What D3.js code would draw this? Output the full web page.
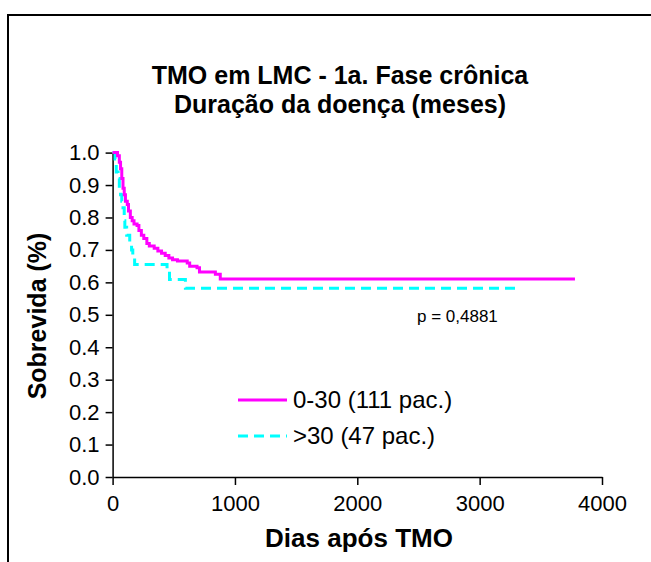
<!DOCTYPE html>
<html><head><meta charset="utf-8">
<script src="https://cdn.jsdelivr.net/npm/d3@7"></script>
<style>body{margin:0;background:#fff}svg{display:block}</style>
</head><body>
<svg id="c" width="651" height="562"></svg>
<script>
// ---- data ----
const titleLines = ["TMO em LMC - 1a. Fase crônica", "Duração da doença (meses)"];
const xLabel = "Dias após TMO";
const yLabel = "Sobrevida (%)";
const xTicks = [0, 1000, 2000, 3000, 4000];
const yTicks = [0, 0.1, 0.2, 0.3, 0.4, 0.5, 0.6, 0.7, 0.8, 0.9, 1.0];
const seriesNames = ["0-30 (111 pac.)", ">30 (47 pac.)"];
const seriesColors = ["#ff00ff", "#00ffff"];
const pValue = "p = 0,4881";
// Kaplan-Meier steps (days after TMO, survival)
const group1Days = [0, 40, 55, 65, 75, 85, 95, 105, 120, 130, 145, 160, 175, 200, 215, 235, 255, 280, 300, 340, 370, 400, 430, 460, 490, 530, 610, 630, 690, 710, 840, 880, 3779];
const group1Surv = [1.0, 0.99, 0.97, 0.95, 0.92, 0.89, 0.87, 0.85, 0.84, 0.82, 0.80, 0.79, 0.78, 0.775, 0.76, 0.745, 0.735, 0.72, 0.712, 0.705, 0.697, 0.69, 0.683, 0.675, 0.67, 0.666, 0.66, 0.65, 0.645, 0.632, 0.625, 0.61, 0.61];
const group2Days = [0, 20, 30, 45, 55, 65, 75, 85, 95, 100, 115, 140, 155, 165, 180, 445, 465, 595, 3313];
const group2Surv = [1.0, 0.98, 0.94, 0.92, 0.89, 0.87, 0.85, 0.83, 0.79, 0.77, 0.745, 0.72, 0.70, 0.68, 0.655, 0.634, 0.609, 0.582, 0.582];

// ---- chart ----
const FONT = "'Liberation Sans', Arial, sans-serif";
const svg = d3.select("#c").style("font-family", FONT);

svg.append("rect").attr("x", 8).attr("y", 15).attr("width", 700).attr("height", 600)
  .attr("fill", "#fff").attr("stroke", "#000").attr("stroke-width", 2);

const x = d3.scaleLinear().domain([0, 4000]).range([112.6, 602]);
const y = d3.scaleLinear().domain([0, 1]).range([477, 152.6]);

// title
svg.append("g").selectAll("text").data(titleLines).join("text")
  .attr("x", 340).attr("y", (d, i) => 84 + i * 29)
  .attr("text-anchor", "middle").attr("font-size", 25).attr("font-weight", "bold")
  .text(d => d);

// axes
const xa = svg.append("g").attr("transform", `translate(0,${y(0)})`)
  .call(d3.axisBottom(x).tickValues(xTicks).tickSize(8).tickSizeOuter(0).tickPadding(10).tickFormat(d3.format("d")));
const ya = svg.append("g").attr("transform", `translate(${x(0)},0)`)
  .call(d3.axisLeft(y).tickValues(yTicks).tickSize(7).tickSizeOuter(0).tickPadding(6).tickFormat(d3.format(".1f")));
[xa, ya].forEach(a => {
  a.selectAll("path,line").attr("stroke", "#000").attr("stroke-width", 1.5);
  a.selectAll("text").attr("font-size", 22).attr("font-family", FONT).attr("fill", "#000");
});

// axis titles
svg.append("text").attr("x", 359).attr("y", 547).attr("text-anchor", "middle")
  .attr("font-size", 26).attr("font-weight", "bold").text(xLabel);
svg.append("text").attr("transform", "translate(46,316) rotate(-90)").attr("text-anchor", "middle")
  .attr("font-size", 25).attr("font-weight", "bold").text(yLabel);

// curves
const line = d3.line().x(d => x(d[0])).y(d => y(d[1])).curve(d3.curveStepAfter);
const g2 = group2Days.map((d, i) => [d, group2Surv[i]]);
const g1 = group1Days.map((d, i) => [d, group1Surv[i]]);
svg.append("path").attr("d", line(g2)).attr("fill", "none").attr("stroke", seriesColors[1])
  .attr("stroke-width", 3).attr("stroke-dasharray", "10,6");
svg.append("path").attr("d", line(g1)).attr("fill", "none").attr("stroke", seriesColors[0])
  .attr("stroke-width", 3);

// p value
svg.append("text").attr("x", 417).attr("y", 322).attr("font-size", 17).text(pValue);

// legend
const legY = [400, 436];
seriesNames.forEach((n, i) => {
  svg.append("line").attr("x1", 238).attr("x2", 287).attr("y1", legY[i]).attr("y2", legY[i])
    .attr("stroke", seriesColors[i]).attr("stroke-width", 3)
    .attr("stroke-dasharray", i === 1 ? "10,6" : null);
  svg.append("text").attr("x", 293).attr("y", legY[i]).attr("dy", "0.35em")
    .attr("font-size", 24).text(n);
});
</script>
</body></html>
